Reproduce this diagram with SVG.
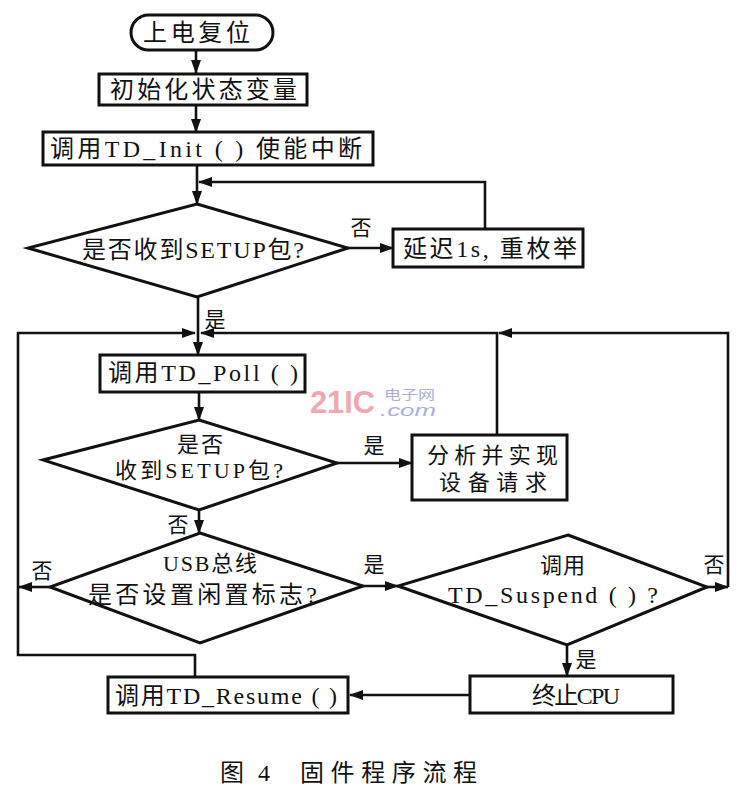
<svg xmlns="http://www.w3.org/2000/svg" width="749" height="800" viewBox="0 0 749 800">
<defs>
<marker id="ah" markerUnits="userSpaceOnUse" markerWidth="14" markerHeight="12" viewBox="0 0 14 12" refX="13" refY="6" orient="auto">
<path d="M0,1 L14,6 L0,11 Z" fill="#111"/>
</marker>
<style>
.shape{fill:#fff;stroke:#111;stroke-width:3}
.line{fill:none;stroke:#111;stroke-width:2.6}
.arr{fill:none;stroke:#111;stroke-width:2.6;marker-end:url(#ah)}
.t{font-family:"Liberation Serif","Noto Sans CJK SC",serif;font-size:24px;fill:#111;dominant-baseline:central}
.s{font-size:22px}
.lbl{font-family:"Liberation Serif","Noto Sans CJK SC",serif;font-size:21px;fill:#111;dominant-baseline:central;text-anchor:middle}
</style>
</defs>
<rect width="749" height="800" fill="#fff"/>

<g id="watermark">
<text x="310" y="402" font-family="Liberation Sans, sans-serif" font-weight="bold" font-size="32" fill="#f2a7b0" dominant-baseline="central" textLength="65" lengthAdjust="spacingAndGlyphs">21IC</text>
<text x="384" y="393" font-family="Noto Sans CJK SC, sans-serif" font-size="13" fill="#a9b0d6" dominant-baseline="central" textLength="51" lengthAdjust="spacingAndGlyphs">电子网</text>
<text x="380" y="410" font-family="Liberation Sans, sans-serif" font-style="italic" font-size="16" fill="#a9b0d6" dominant-baseline="central" textLength="56" lengthAdjust="spacingAndGlyphs">.com</text>
</g>

<g id="connectors">
<path class="arr" d="M196,50 V73"/>
<path class="arr" d="M196,105 V132"/>
<path class="arr" d="M197,165 V204"/>
<path class="arr" d="M485,229 V182 H199"/>
<path class="arr" d="M348,248 H393"/>
<path class="arr" d="M198,297 V355"/>
<path class="arr" d="M195,677 V655 H18 V333 H195"/>
<path class="arr" d="M497,435 V333 H201"/>
<path class="arr" d="M728,587 V333 H499"/>
<path class="arr" d="M199,392 V420"/>
<path class="arr" d="M337,463 H412"/>
<path class="arr" d="M199,510 V533"/>
<path class="arr" d="M50,587 H19"/>
<path class="arr" d="M363,586 H398"/>
<path class="arr" d="M707,587 H728"/>
<path class="arr" d="M567,645 V676"/>
<path class="arr" d="M470,695 H350"/>
<text class="lbl" x="361" y="228">否</text>
<text class="lbl" x="215" y="320">是</text>
<text class="lbl" x="374" y="446">是</text>
<text class="lbl" x="178" y="525">否</text>
<text class="lbl" x="42" y="571">否</text>
<text class="lbl" x="374" y="565">是</text>
<text class="lbl" x="714" y="565">否</text>
<text class="lbl" x="586" y="660">是</text>
</g>

<g id="n-start">
<rect class="shape" x="131" y="15" width="142" height="35" rx="17.5"/>
<text class="t" x="143" y="33" textLength="107" lengthAdjust="spacing">上电复位</text>
</g>
<g id="n-init-vars">
<rect class="shape" x="99" y="74" width="208" height="31"/>
<text class="t" x="110" y="90" textLength="187" lengthAdjust="spacing">初始化状态变量</text>
</g>
<g id="n-td-init">
<rect class="shape" x="43" y="132" width="330" height="33"/>
<text class="t" x="50" y="149" textLength="312" lengthAdjust="spacing">调用TD_Init ( ) 使能中断</text>
</g>
<g id="n-setup1">
<polygon class="shape" points="197,204 348,248 197,297 28,248"/>
<text class="t" x="82" y="250" textLength="222" lengthAdjust="spacing">是否收到SETUP包?</text>
</g>
<g id="n-delay">
<rect class="shape" x="393" y="229" width="190" height="38"/>
<text class="t" x="403" y="249" textLength="174" lengthAdjust="spacing">延迟1s, 重枚举</text>
</g>
<g id="n-td-poll">
<rect class="shape" x="100" y="355" width="205" height="37"/>
<text class="t" x="108" y="373" textLength="190" lengthAdjust="spacing">调用TD_Poll ( )</text>
</g>
<g id="n-setup2">
<polygon class="shape" points="199,420 337,463 199,510 43,460"/>
<text class="t s" x="177" y="444" textLength="46" lengthAdjust="spacing">是否</text>
<text class="t s" x="115" y="470" textLength="168" lengthAdjust="spacing">收到SETUP包?</text>
</g>
<g id="n-analyze">
<rect class="shape" x="412" y="435" width="155" height="65"/>
<text class="t s" x="427" y="455" textLength="131" lengthAdjust="spacing">分析并实现</text>
<text class="t s" x="439" y="482" textLength="108" lengthAdjust="spacing">设备请求</text>
</g>
<g id="n-idle">
<polygon class="shape" points="200,533 363,586 200,643 50,587"/>
<text class="t s" x="163" y="563" textLength="94" lengthAdjust="spacing">USB总线</text>
<text class="t" x="88" y="595" textLength="229" lengthAdjust="spacing">是否设置闲置标志?</text>
</g>
<g id="n-suspend">
<polygon class="shape" points="568,535 707,587 567,645 398,586"/>
<text class="t s" x="540" y="565" textLength="45" lengthAdjust="spacing">调用</text>
<text class="t" x="448" y="595" textLength="210" lengthAdjust="spacing">TD_Suspend ( ) ?</text>
</g>
<g id="n-halt">
<rect class="shape" x="470" y="676" width="203" height="37"/>
<text class="t" x="532" y="696" textLength="88" lengthAdjust="spacing">终止CPU</text>
</g>
<g id="n-resume">
<rect class="shape" x="108" y="677" width="240" height="36"/>
<text class="t" x="115" y="696" textLength="222" lengthAdjust="spacing">调用TD_Resume ( )</text>
</g>

<g id="caption">
<text class="t" x="220" y="773" textLength="50" lengthAdjust="spacing">图 4</text>
<text class="t" x="300" y="773" textLength="177" lengthAdjust="spacing">固件程序流程</text>
</g>
</svg>
